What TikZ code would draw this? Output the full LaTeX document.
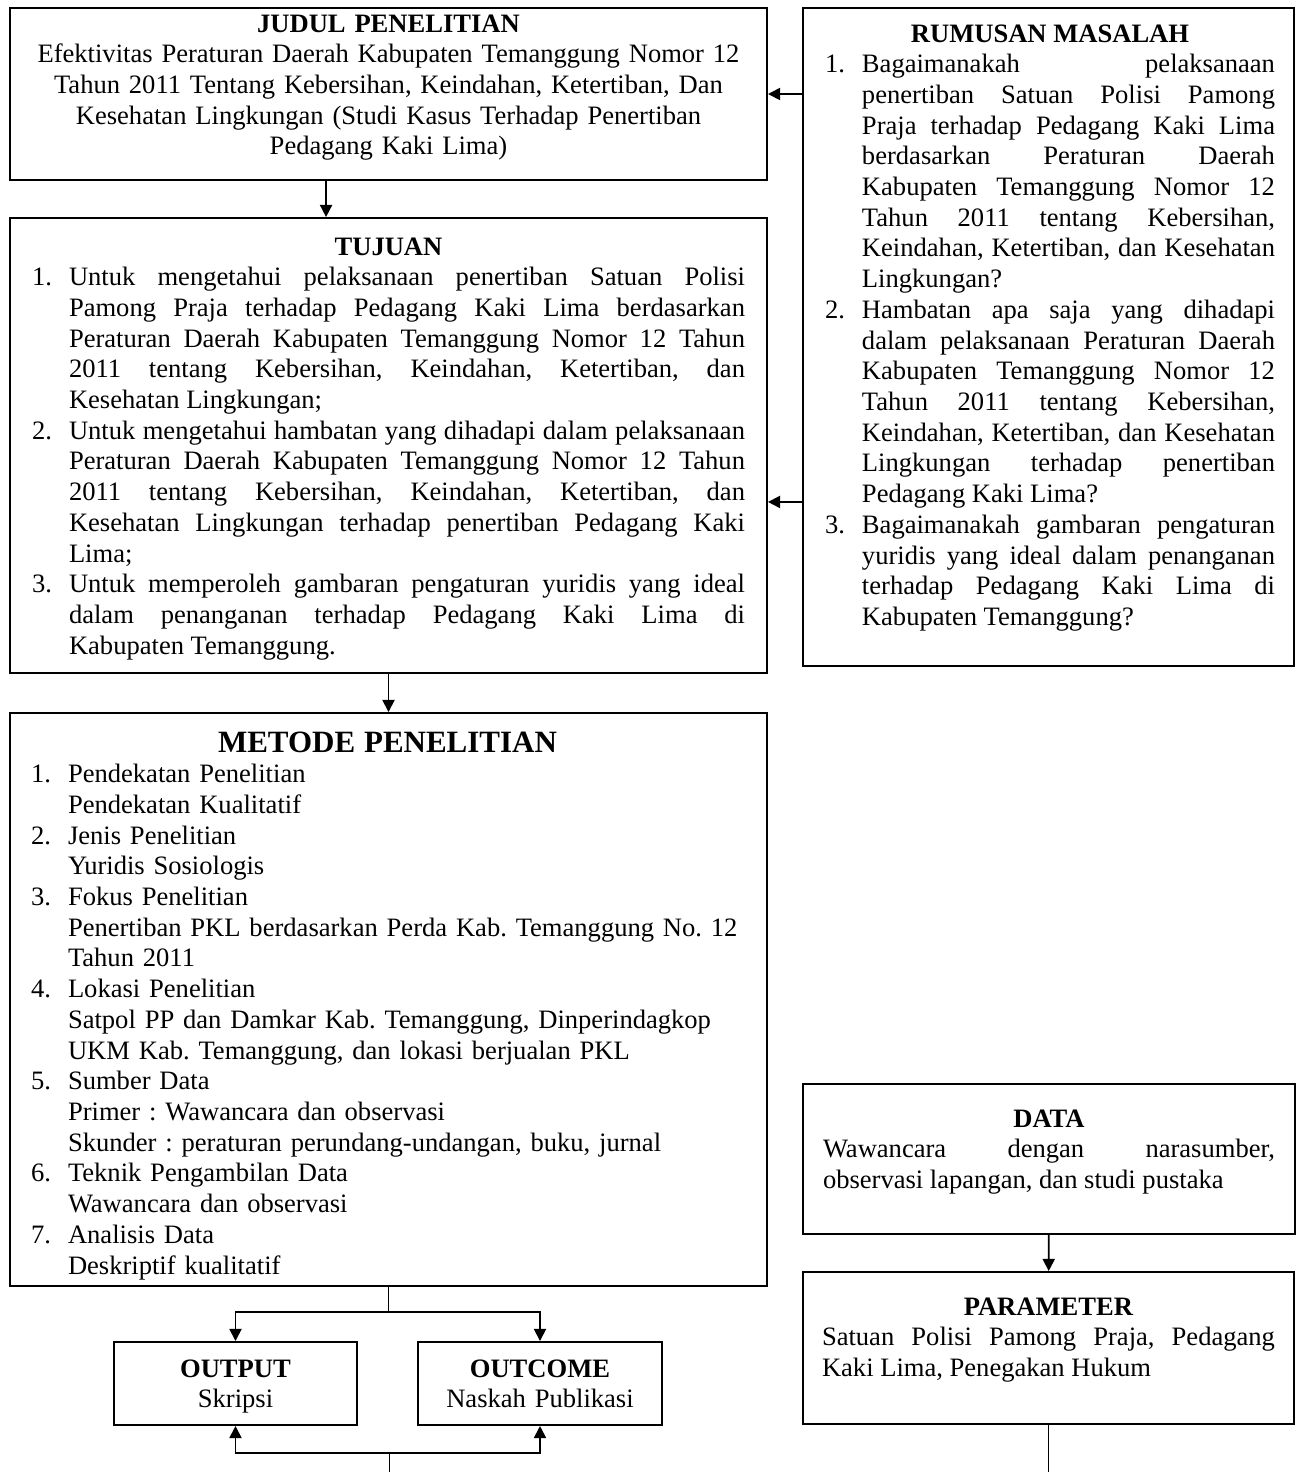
\documentclass[tikz,border=0pt]{standalone}
\usepackage{fontspec}
\setmainfont{Liberation Serif}
\usepackage{enumitem}
\usetikzlibrary{arrows.meta,calc,fit,positioning}
\setlist[enumerate]{label=\arabic*., nosep, leftmargin=16.71pt, labelindent=0pt, labelwidth=9pt, labelsep=*, align=left}
\hyphenpenalty=10000
\exhyphenpenalty=10000
\frenchspacing

\begin{document}
\begin{tikzpicture}[x=0.4517pt, y=-0.4517pt,
    frame/.style={draw, line width=0.9pt, inner sep=0pt},
    boxtext/.style={inner sep=0pt, anchor=base, font=\fontsize{12pt}{13.87pt}\selectfont},
    arrow/.style={-{Triangle[length=5.5pt,width=5.5pt]}, line width=0.8pt},
    link/.style={line width=0.45pt}]
  \useasboundingbox (0,0) rectangle (1302,1472);

  \node[frame, fit={(10,8) (767,180)}] (judul) {};
  \node[frame, fit={(803,8) (1294,666)}] (rumusan) {};
  \node[frame, fit={(10,218) (767,673)}] (tujuan) {};
  \node[frame, fit={(10,713) (767,1286)}] (metode) {};
  \node[frame, fit={(114,1342) (357,1425)}] (output) {};
  \node[frame, fit={(418,1342) (662,1425)}] (outcome) {};
  \node[frame, fit={(803,1084) (1295,1234)}] (data) {};
  \node[frame, fit={(803,1272) (1294,1424)}] (parameter) {};

  \node[boxtext, text width=322.06pt] (judul-text) at (388.5,32) {\centering\textbf{JUDUL PENELITIAN}\\
    Efektivitas Peraturan Daerah Kabupaten Temanggung Nomor 12\\
    Tahun 2011 Tentang Kebersihan, Keindahan, Ketertiban, Dan\\
    Kesehatan Lingkungan (Studi Kasus Terhadap Penertiban\\
    Pedagang Kaki Lima)\par};

  \node[boxtext, text width=203.27pt, align=justify] (rumusan-text) at (1050,42) {{\centering\textbf{RUMUSAN MASALAH}\par}
    \begin{enumerate}
      \item Bagaimanakah pelaksanaan\linebreak penertiban Satuan Polisi Pamong\linebreak Praja terhadap Pedagang Kaki Lima\linebreak berdasarkan Peraturan Daerah\linebreak Kabupaten Temanggung Nomor 12\linebreak Tahun 2011 tentang Kebersihan,\linebreak Keindahan, Ketertiban, dan Kesehatan\linebreak Lingkungan?
      \item Hambatan apa saja yang dihadapi\linebreak dalam pelaksanaan Peraturan Daerah\linebreak Kabupaten Temanggung Nomor 12\linebreak Tahun 2011 tentang Kebersihan,\linebreak Keindahan, Ketertiban, dan Kesehatan\linebreak Lingkungan terhadap penertiban\linebreak Pedagang Kaki Lima?
      \item Bagaimanakah gambaran pengaturan\linebreak yuridis yang ideal dalam penanganan\linebreak terhadap Pedagang Kaki Lima di\linebreak Kabupaten Temanggung?
    \end{enumerate}};

  \node[boxtext, text width=322.06pt, align=justify] (tujuan-text) at (388.5,255) {{\centering\textbf{TUJUAN}\par}
    \begin{enumerate}
      \item Untuk mengetahui pelaksanaan penertiban Satuan Polisi\linebreak Pamong Praja terhadap Pedagang Kaki Lima berdasarkan\linebreak Peraturan Daerah Kabupaten Temanggung Nomor 12 Tahun\linebreak 2011 tentang Kebersihan, Keindahan, Ketertiban, dan\linebreak Kesehatan Lingkungan;
      \item Untuk mengetahui hambatan yang dihadapi dalam pelaksanaan\linebreak Peraturan Daerah Kabupaten Temanggung Nomor 12 Tahun\linebreak 2011 tentang Kebersihan, Keindahan, Ketertiban, dan\linebreak Kesehatan Lingkungan terhadap penertiban Pedagang Kaki\linebreak Lima;
      \item Untuk memperoleh gambaran pengaturan yuridis yang ideal\linebreak dalam penanganan terhadap Pedagang Kaki Lima di\linebreak Kabupaten Temanggung.
    \end{enumerate}};

  \node[boxtext, text width=322.06pt] (metode-text) at (387.5,752) {{\centering\fontsize{14pt}{13.87pt}\selectfont\textbf{METODE PENELITIAN}\par}
    \raggedright
    \begin{enumerate}
      \item Pendekatan Penelitian\\ Pendekatan Kualitatif
      \item Jenis Penelitian\\ Yuridis Sosiologis
      \item Fokus Penelitian\\ Penertiban PKL berdasarkan Perda Kab. Temanggung No. 12\\ Tahun 2011
      \item Lokasi Penelitian\\ Satpol PP dan Damkar Kab. Temanggung, Dinperindagkop\\ UKM Kab. Temanggung, dan lokasi berjualan PKL
      \item Sumber Data\\ Primer : Wawancara dan observasi\\ Skunder : peraturan perundang-undangan, buku, jurnal
      \item Teknik Pengambilan Data\\ Wawancara dan observasi
      \item Analisis Data\\ Deskriptif kualitatif
    \end{enumerate}};

  \node[boxtext, text width=108.4pt] (output-text) at (235.5,1377) {\centering\textbf{OUTPUT}\\ Skripsi\par};
  \node[boxtext, text width=108.4pt] (outcome-text) at (540,1377) {\centering\textbf{OUTCOME}\\ Naskah Publikasi\par};

  \node[boxtext, text width=204.17pt, align=justify] (data-text) at (1049,1127) {{\centering\textbf{DATA}\par}
    Wawancara dengan narasumber,\linebreak observasi lapangan, dan studi pustaka\par};
  \node[boxtext, text width=204.62pt, align=justify] (parameter-text) at (1048.5,1315) {{\centering\textbf{PARAMETER}\par}
    Satuan Polisi Pamong Praja, Pedagang\linebreak Kaki Lima, Penegakan Hukum\par};

  \coordinate (tujuan-in) at ([yshift=-25.5pt]tujuan.east);
  \coordinate (split) at ([yshift=-11.3pt]metode.south);
  \coordinate (merge) at (389,1453);
  \coordinate (bottom-end) at (389,1472);
  \coordinate (parameter-end) at (parameter.south |- bottom-end);

  \draw[arrow] (judul.east -| rumusan.west) -- (judul.east);
  \draw[arrow] (tujuan-in -| rumusan.west) -- (tujuan-in);
  \draw[arrow] ([xshift=-28.2pt]judul.south) -- ([xshift=-28.2pt]tujuan.north);
  \draw[arrow] (tujuan) -- (metode);
  \draw[link] (metode) -- (split);
  \draw[arrow] (split) -| (output);
  \draw[arrow] (split) -| (outcome);
  \draw[link] (bottom-end) -- (merge);
  \draw[arrow] (merge) -| (output);
  \draw[arrow] (merge) -| (outcome);
  \draw[arrow] (data) -- (parameter);
  \draw[link] (parameter) -- (parameter-end);
\end{tikzpicture}
\end{document}
